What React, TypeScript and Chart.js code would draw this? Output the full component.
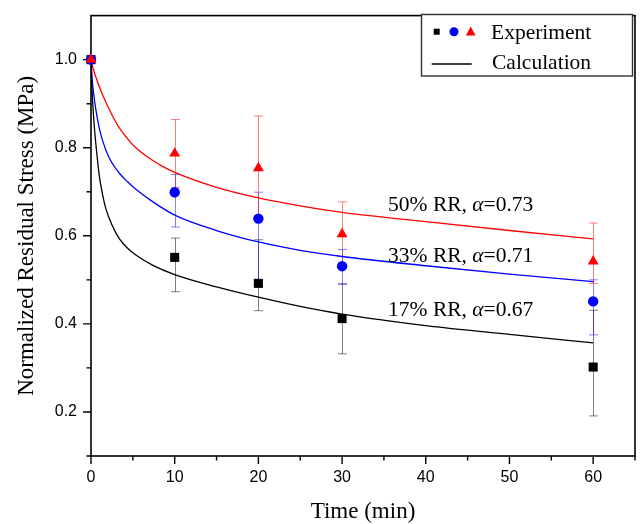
import React, { useEffect, useRef } from 'react';
import { Chart, registerables } from 'chart.js';

Chart.register(...registerables);

// Calculation curves
const curveTime17 = [0, 0.05, 0.1, 0.2, 0.4, 0.7, 1, 1.4, 1.8, 2.5, 3.4, 4.4, 5.4, 7.4, 10, 15, 20, 25, 30, 40, 50, 60];
const curve17 = [1.0, 0.962, 0.94, 0.9025, 0.847, 0.786, 0.735, 0.692, 0.66, 0.625, 0.593, 0.571, 0.556, 0.533, 0.512, 0.484, 0.4605, 0.4395, 0.422, 0.396, 0.376, 0.357];
const curveTime33 = [0, 0.15, 0.3, 0.6, 1.0, 1.4, 2.2, 3.4, 4.4, 5.4, 7.4, 10, 15, 20, 25, 30, 40, 50, 60];
const curve33 = [1.0, 0.953, 0.925, 0.884, 0.844, 0.815, 0.776, 0.742, 0.722, 0.705, 0.677, 0.647, 0.612, 0.586, 0.567, 0.553, 0.532, 0.513, 0.496];
const curveTime50 = [0, 0.12, 0.5, 1.34, 2.6, 3.32, 4.6, 5.3, 6.6, 7.3, 8.6, 10, 15, 20, 25, 30, 40, 50, 60];
const curve50 = [1.0, 0.989, 0.965, 0.922, 0.871, 0.847, 0.815, 0.801, 0.781, 0.772, 0.757, 0.744, 0.71, 0.686, 0.668, 0.653, 0.632, 0.612, 0.593];

// Experiment points with error bar bounds
const expTime = [0, 10, 20, 30, 60];
const exp17 = [1.0, 0.551, 0.492, 0.412, 0.302];
const err17Low = [1.0, 0.473, 0.43, 0.332, 0.191];
const err17High = [1.0, 0.595, 0.591, 0.491, 0.431];
const exp33 = [1.0, 0.699, 0.639, 0.531, 0.451];
const err33Low = [1.0, 0.62, 0.5, 0.49, 0.375];
const err33High = [1.0, 0.739, 0.699, 0.569, 0.5];
const exp50 = [1.0, 0.787, 0.754, 0.604, 0.542];
const err50Low = [1.0, 0.71, 0.64, 0.53, 0.492];
const err50High = [1.0, 0.864, 0.872, 0.677, 0.629];

// Axes
const xTickValues = [0, 10, 20, 30, 40, 50, 60];
const xMinorTicks = [5, 15, 25, 35, 45, 55, 65];
const yTickValues = [0.2, 0.4, 0.6, 0.8, 1.0];
const yMinorTicks = [0.1, 0.3, 0.5, 0.7, 0.9];

// Annotations
const annoPrefix = ['50% RR, ', '33% RR, ', '17% RR, '];
const annoSuffix = ['=0.73', '=0.71', '=0.67'];
const annoX = [35.5, 35.5, 35.5];
const annoY = [0.6555, 0.5399, 0.4181];

const SERIF = '"Liberation Serif", "Times New Roman", serif';
const SANS = '"Liberation Sans", Arial, sans-serif';

const toPts = (xs: number[], ys: number[]) => xs.map((x, i) => ({ x, y: ys[i] }));

const errSeries = [
  { low: err17Low, high: err17High, color: 'rgba(0,0,0,0.5)' },
  { low: err33Low, high: err33High, color: 'rgba(0,0,255,0.5)' },
  { low: err50Low, high: err50High, color: 'rgba(255,0,0,0.5)' },
];

const decor = {
  id: 'decor',
  beforeDatasetsDraw(chart: any) {
    const { ctx, chartArea: a, scales } = chart;
    const xs = scales.x, ys = scales.y;
    ctx.save();
    // frame
    ctx.strokeStyle = '#000';
    ctx.lineWidth = 1.6;
    ctx.strokeRect(a.left, a.top, a.right - a.left, a.bottom - a.top);
    // ticks
    ctx.lineWidth = 1.4;
    ctx.beginPath();
    xTickValues.forEach((v) => {
      const px = xs.getPixelForValue(v);
      ctx.moveTo(px, a.bottom);
      ctx.lineTo(px, a.bottom + 8);
    });
    xMinorTicks.forEach((v) => {
      const px = xs.getPixelForValue(v);
      ctx.moveTo(px, a.bottom);
      ctx.lineTo(px, a.bottom + 4.5);
    });
    yTickValues.forEach((v) => {
      const py = ys.getPixelForValue(v);
      ctx.moveTo(a.left, py);
      ctx.lineTo(a.left - 8, py);
    });
    yMinorTicks.forEach((v) => {
      const py = ys.getPixelForValue(v);
      ctx.moveTo(a.left, py);
      ctx.lineTo(a.left - 4.5, py);
    });
    ctx.stroke();
    // error bars
    ctx.lineWidth = 1;
    errSeries.forEach((s) => {
      ctx.strokeStyle = s.color;
      ctx.beginPath();
      expTime.forEach((t, i) => {
        if (s.high[i] <= s.low[i]) return;
        const px = Math.round(xs.getPixelForValue(t)) + 0.5;
        const pl = ys.getPixelForValue(s.low[i]);
        const ph = ys.getPixelForValue(s.high[i]);
        ctx.moveTo(px, pl);
        ctx.lineTo(px, ph);
        ctx.moveTo(px - 4.5, pl);
        ctx.lineTo(px + 4.5, pl);
        ctx.moveTo(px - 4.5, ph);
        ctx.lineTo(px + 4.5, ph);
      });
      ctx.stroke();
    });
    ctx.restore();
  },
  afterDatasetsDraw(chart: any) {
    const { ctx, chartArea: a, scales } = chart;
    const xs = scales.x, ys = scales.y;
    ctx.save();
    ctx.fillStyle = '#000';
    // annotations
    annoPrefix.forEach((p, i) => {
      let x = xs.getPixelForValue(annoX[i]);
      const y = ys.getPixelForValue(annoY[i]);
      ctx.textBaseline = 'alphabetic';
      ctx.textAlign = 'left';
      ctx.font = `21.5px ${SERIF}`;
      ctx.fillText(p, x, y);
      x += ctx.measureText(p).width;
      ctx.font = `italic 21.5px ${SERIF}`;
      ctx.fillText('α', x, y);
      x += ctx.measureText('α').width;
      ctx.font = `21.5px ${SERIF}`;
      ctx.fillText(annoSuffix[i], x, y);
    });
    // axis titles
    ctx.font = `23px ${SERIF}`;
    ctx.textAlign = 'center';
    ctx.textBaseline = 'alphabetic';
    ctx.fillText('Time (min)', (a.left + a.right) / 2, 518);
    ctx.save();
    ctx.translate(33, (a.top + a.bottom) / 2);
    ctx.rotate(-Math.PI / 2);
    ctx.fillText('Normalized Residual Stress (MPa)', 0, 0);
    ctx.restore();
    // legend
    const lx = 421.5, ly = 14.5, lw = 211, lh = 61.5;
    ctx.fillStyle = '#fff';
    ctx.fillRect(lx, ly, lw, lh);
    ctx.strokeStyle = '#333';
    ctx.lineWidth = 1.4;
    ctx.strokeRect(lx, ly, lw, lh);
    ctx.fillStyle = '#000';
    ctx.fillRect(433.7, 28.7, 6, 6);
    ctx.fillStyle = '#0000ff';
    ctx.beginPath();
    ctx.arc(454, 31.7, 4.5, 0, Math.PI * 2);
    ctx.fill();
    ctx.fillStyle = '#ff0000';
    ctx.beginPath();
    ctx.moveTo(470.7, 26.5);
    ctx.lineTo(475.5, 35.5);
    ctx.lineTo(465.9, 35.5);
    ctx.closePath();
    ctx.fill();
    ctx.strokeStyle = '#000';
    ctx.lineWidth = 1.3;
    ctx.beginPath();
    ctx.moveTo(431.7, 64);
    ctx.lineTo(471.7, 64);
    ctx.stroke();
    ctx.fillStyle = '#000';
    ctx.font = `21.5px ${SERIF}`;
    ctx.textAlign = 'left';
    ctx.fillText('Experiment', 491, 39.3);
    ctx.fillText('Calculation', 492, 69.3);
    ctx.restore();
  },
};

export default function App() {
  const ref = useRef<HTMLCanvasElement>(null);
  useEffect(() => {
    if (!ref.current) return;
    const lineDs = (xs: number[], ys: number[], color: string) => ({
      data: toPts(xs, ys),
      borderColor: color,
      backgroundColor: color,
      borderWidth: 1.3,
      pointRadius: 0,
      showLine: true,
      cubicInterpolationMode: 'monotone' as const,
      order: 10,
    });
    const pointDs = (ys: number[], color: string, style: string, r: number, order: number) => ({
      data: toPts(expTime, ys),
      showLine: false,
      pointStyle: style,
      pointRadius: r,
      pointBackgroundColor: color,
      pointBorderColor: color,
      pointBorderWidth: 0,
      clip: false as const,
      order,
    });
    const chart = new Chart(ref.current, {
      type: 'line',
      data: {
        datasets: [
          lineDs(curveTime17, curve17, '#000000'),
          lineDs(curveTime33, curve33, '#0000ff'),
          lineDs(curveTime50, curve50, '#ff0000'),
          pointDs(exp17, '#000000', 'rect', 6.4, 3),
          pointDs(exp33, '#0000ff', 'circle', 5.2, 2),
          pointDs(exp50, '#ff0000', 'triangle', 6.3, 1),
        ] as any,
      },
      options: {
        responsive: false,
        animation: false,
        events: [],
        layout: { padding: { top: 11, right: 7, left: 0, bottom: 0 } },
        plugins: { legend: { display: false }, tooltip: { enabled: false } },
        scales: {
          x: {
            type: 'linear',
            min: 0,
            max: 65,
            afterBuildTicks: (s: any) => {
              s.ticks = xTickValues.map((v) => ({ value: v }));
            },
            afterFit: (s: any) => {
              s.height = 68;
            },
            ticks: {
              autoSkip: false,
              maxRotation: 0,
              padding: 6,
              color: '#000',
              font: { family: SANS, size: 16 },
              callback: (v: any) => String(v),
            },
            grid: { drawOnChartArea: false, tickLength: 6, color: 'rgba(0,0,0,0)' },
            border: { display: false },
          },
          y: {
            type: 'linear',
            min: 0.1,
            max: 1.1,
            afterBuildTicks: (s: any) => {
              s.ticks = yTickValues.map((v) => ({ value: v }));
            },
            afterFit: (s: any) => {
              s.width = 91;
            },
            ticks: {
              autoSkip: false,
              padding: 6,
              color: '#000',
              font: { family: SANS, size: 16 },
              callback: (v: any) => Number(v).toFixed(1),
            },
            grid: { drawOnChartArea: false, tickLength: 8, color: 'rgba(0,0,0,0)' },
            border: { display: false },
          },
        },
      },
      plugins: [decor],
    });
    return () => chart.destroy();
  }, []);
  return (
    <div style={{ position: 'absolute', left: 0, top: 0, width: 642, height: 524, background: '#fff' }}>
      <canvas ref={ref} width={642} height={524} style={{ display: 'block' }} />
    </div>
  );
}
